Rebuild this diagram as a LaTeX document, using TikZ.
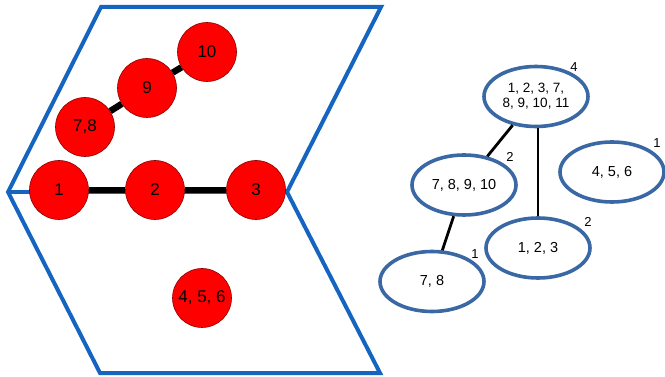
\documentclass[tikz,border=0pt]{standalone}
\usepackage{fontspec}
\setmainfont{Liberation Sans}
\usetikzlibrary{shapes.geometric}
\definecolor{chev}{RGB}{21,101,192}
\definecolor{ell}{RGB}{58,104,164}
\definecolor{bead}{RGB}{255,0,0}
\pgfdeclarelayer{bg}
\pgfdeclarelayer{mid}
\pgfsetlayers{bg,mid,main}
\begin{document}
\begin{tikzpicture}[x=1pt,y=-1pt,
  bead/.style={circle,fill=bead,draw=red!55!black,line width=0.6pt,minimum size=59pt,inner sep=0pt,font=\fontsize{17}{20}\selectfont},
  link/.style={line width=6.5pt,black},
  tnode/.style={ellipse,draw=ell,line width=3.6pt,fill=white,minimum width=104pt,minimum height=60pt,inner sep=0pt,font=\fontsize{14.5}{16}\selectfont,align=center},
  tedge/.style={line width=2.8pt,black},
  wt/.style={inner sep=0pt,font=\fontsize{13}{15}\selectfont}]
\useasboundingbox (0,0) rectangle (665,377);
% chevron planes
\begin{pgfonlayer}{bg}
\draw[chev,line width=4pt,line join=miter] (287,192) -- (381,7) -- (101,7) -- (8,192) -- (100,373) -- (380,373) -- (287,192);
\draw[chev,line width=4.5pt] (8,192) -- (287,192);
\end{pgfonlayer}
% beads
\node[bead] (c1) at (59,190) {1};
\node[bead] (c2) at (155,190) {2};
\node[bead] (c3) at (256,190) {3};
\node[bead] (c78) at (85,127) {7,8};
\node[bead] (c9) at (147,88) {9};
\node[bead] (c10) at (207,52) {10};
\node[bead] (c456) at (202,298) {4, 5, 6};
\begin{pgfonlayer}{mid}
\draw[link] (c1) -- (c2);
\draw[link] (c2) -- (c3);
\draw[link] (c78) -- (c9);
\draw[link] (c9) -- (c10);
\end{pgfonlayer}
% tree
\node[tnode,font=\fontsize{13.5}{15}\selectfont] (t4) at (536,96.5) {1, 2, 3, 7,\\8, 9, 10, 11};
\node[tnode] (t78910) at (464,185) {7, 8, 9, 10};
\node[tnode] (t456) at (612,172) {4, 5, 6};
\node[tnode] (t123) at (538,248) {1, 2, 3};
\node[tnode] (t78) at (432,281.5) {7, 8};
\draw[tedge] (t4) -- (t78910);
\draw[tedge] (t4.south -| t123) -- (t123.north);
\draw[tedge] (t78910) -- (t78);
\node[wt] (w4) at (574,67) {4};
\node[wt] (w78910) at (510,157) {2};
\node[wt] (w456) at (657,143) {1};
\node[wt] (w123) at (588,222) {2};
\node[wt] (w78) at (475,254) {1};
\end{tikzpicture}
\end{document}
